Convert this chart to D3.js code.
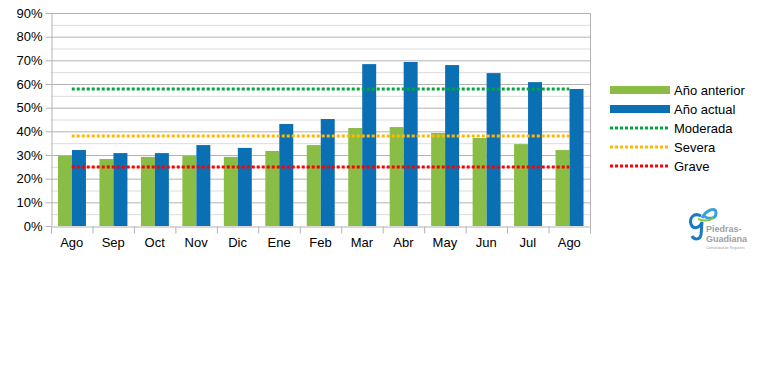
<!DOCTYPE html>
<html>
<head>
<meta charset="utf-8">
<script src="https://cdn.jsdelivr.net/npm/d3@7"></script>
<style>
body { margin: 0; background: #fff; }
svg text { font-family: "Liberation Sans", Arial, sans-serif; }
</style>
</head>
<body>
<script>
const months = ["Ago", "Sep", "Oct", "Nov", "Dic", "Ene", "Feb", "Mar", "Abr", "May", "Jun", "Jul", "Ago"];
const prevYear = [29.6, 28.3, 29.2, 29.6, 29.2, 31.7, 34.2, 41.4, 41.8, 39.3, 37.2, 34.6, 32.1];
const currYear = [32.1, 30.8, 30.8, 34.2, 33.0, 43.1, 45.2, 68.4, 69.3, 68.0, 64.6, 60.8, 57.9];
const thresholds = [
  {name: "Moderada", value: 57.9},
  {name: "Severa", value: 38.0},
  {name: "Grave", value: 24.9}
];
const yTicks = [0, 10, 20, 30, 40, 50, 60, 70, 80, 90];

const width = 758, height = 369;
const margin = {top: 13, right: 168, bottom: 143, left: 51};

const svg = d3.select("body").append("svg")
  .attr("width", width)
  .attr("height", height);

const idx = months.map((m, i) => i);

const x0 = d3.scaleBand()
  .domain(idx)
  .range([margin.left, width - margin.right]);

const x1 = d3.scaleBand()
  .domain(["prev", "curr"])
  .range([7, x0.bandwidth() - 6.5]);

const y = d3.scaleLinear()
  .domain([0, 90])
  .range([height - margin.bottom, margin.top]);

const color = {prev: "#8abd45", curr: "#0b6fb4"};
const lineColor = d3.scaleOrdinal()
  .domain(thresholds.map(d => d.name))
  .range(["#00a83c", "#ffb900", "#ff0000"]);

// minor grid
svg.append("g")
  .selectAll("line")
  .data(d3.range(5, 90, 10))
  .join("line")
    .attr("x1", margin.left).attr("x2", width - margin.right)
    .attr("y1", d => y(d) + 0.5).attr("y2", d => y(d) + 0.5)
    .attr("stroke", "#dcdcdc");

// major grid
svg.append("g")
  .selectAll("line")
  .data(yTicks.slice(1))
  .join("line")
    .attr("x1", margin.left).attr("x2", width - margin.right)
    .attr("y1", d => y(d) + 0.5).attr("y2", d => y(d) + 0.5)
    .attr("stroke", "#b3b3b3");

// right border
svg.append("line")
  .attr("x1", width - margin.right + 0.5).attr("x2", width - margin.right + 0.5)
  .attr("y1", margin.top).attr("y2", y(0))
  .attr("stroke", "#b3b3b3");

// bars
const data = idx.map(i => ({i, prev: prevYear[i], curr: currYear[i]}));
svg.append("g")
  .selectAll("g")
  .data(data)
  .join("g")
    .attr("transform", d => `translate(${x0(d.i)},0)`)
  .selectAll("rect")
  .data(d => ["prev", "curr"].map(key => ({key, value: d[key]})))
  .join("rect")
    .attr("x", d => x1(d.key))
    .attr("y", d => y(d.value))
    .attr("width", x1.bandwidth())
    .attr("height", d => y(0) - y(d.value))
    .attr("fill", d => color[d.key]);

// threshold lines
const cx = i => x0(i) + x0.bandwidth() / 2;
svg.append("g")
  .selectAll("line")
  .data(thresholds)
  .join("line")
    .attr("x1", cx(0)).attr("x2", cx(months.length - 1))
    .attr("y1", d => y(d.value)).attr("y2", d => y(d.value))
    .attr("stroke", d => lineColor(d.name))
    .attr("stroke-width", 3)
    .attr("stroke-dasharray", "3,2");

// y axis
const yAxis = svg.append("g")
  .attr("transform", `translate(${margin.left + 0.5},0)`)
  .call(d3.axisLeft(y).tickValues(yTicks).tickFormat(d => d + "%").tickSizeInner(6).tickSizeOuter(0).tickPadding(3))
  .call(g => g.select(".domain").attr("stroke", "#b3b3b3"))
  .call(g => g.selectAll(".tick line").attr("stroke", "#b3b3b3"));
yAxis.selectAll("text")
  .attr("font-size", 13)
  .attr("fill", "#000");

// x axis
const xAxis = svg.append("g")
  .attr("transform", `translate(0,${y(0) + 0.5})`)
  .call(d3.axisBottom(x0).tickSize(0).tickFormat(i => months[i]).tickPadding(11))
  .call(g => g.select(".domain").attr("stroke", "#b3b3b3"));
xAxis.selectAll("text")
  .attr("font-size", 13)
  .attr("fill", "#000");
xAxis.append("g")
  .selectAll("line")
  .data(d3.range(months.length + 1))
  .join("line")
    .attr("x1", i => (i < months.length ? x0(i) : width - margin.right) + 0.5)
    .attr("x2", i => (i < months.length ? x0(i) : width - margin.right) + 0.5)
    .attr("y1", 0).attr("y2", 7)
    .attr("stroke", "#b3b3b3");

// legend
const legendItems = [
  {name: "Año anterior", type: "bar", color: color.prev},
  {name: "Año actual", type: "bar", color: color.curr}
].concat(thresholds.map(d => ({name: d.name, type: "line", color: lineColor(d.name)})));

const legend = svg.append("g")
  .attr("transform", "translate(610,90)")
  .selectAll("g")
  .data(legendItems)
  .join("g")
    .attr("transform", (d, i) => `translate(0,${i * 19})`);

legend.filter(d => d.type === "bar").append("rect")
  .attr("x", 0).attr("y", -4)
  .attr("width", 60).attr("height", 8)
  .attr("fill", d => d.color);

legend.filter(d => d.type === "line").append("line")
  .attr("x1", 0).attr("x2", 60)
  .attr("y1", 0).attr("y2", 0)
  .attr("stroke", d => d.color)
  .attr("stroke-width", 3)
  .attr("stroke-dasharray", "3,2");

legend.append("text")
  .attr("x", 64)
  .attr("dy", "0.35em")
  .attr("font-size", 13)
  .text(d => d.name);

// logo (simplified)
const logo = svg.append("g").attr("transform", "translate(688,204)");
logo.append("path")
  .attr("d", "M13,12 C6,8 1,14 3,20 C5,26 12,24 14,18 L13,31 C12,36 6,36 4,32")
  .attr("fill", "none").attr("stroke", "#1b78c2").attr("stroke-width", 3);
logo.append("path")
  .attr("d", "M14,14 C18,6 28,2 28,9 C28,16 19,15 16,12")
  .attr("fill", "none").attr("stroke", "#3aa0da").attr("stroke-width", 3);
logo.append("path")
  .attr("d", "M10,15 C15,17 20,18 26,14")
  .attr("fill", "none").attr("stroke", "#8bc53f").attr("stroke-width", 2);
logo.append("text")
  .attr("x", 18).attr("y", 28)
  .attr("font-size", 9).attr("font-weight", "bold").attr("fill", "#a0a0a0")
  .text("Piedras-");
logo.append("text")
  .attr("x", 18).attr("y", 38)
  .attr("font-size", 9).attr("font-weight", "bold").attr("fill", "#a0a0a0")
  .text("Guadiana");
logo.append("text")
  .attr("x", 18).attr("y", 45)
  .attr("font-size", 3.5).attr("fill", "#a0a0a0")
  .text("Comunidad de Regantes");
</script>
</body>
</html>
